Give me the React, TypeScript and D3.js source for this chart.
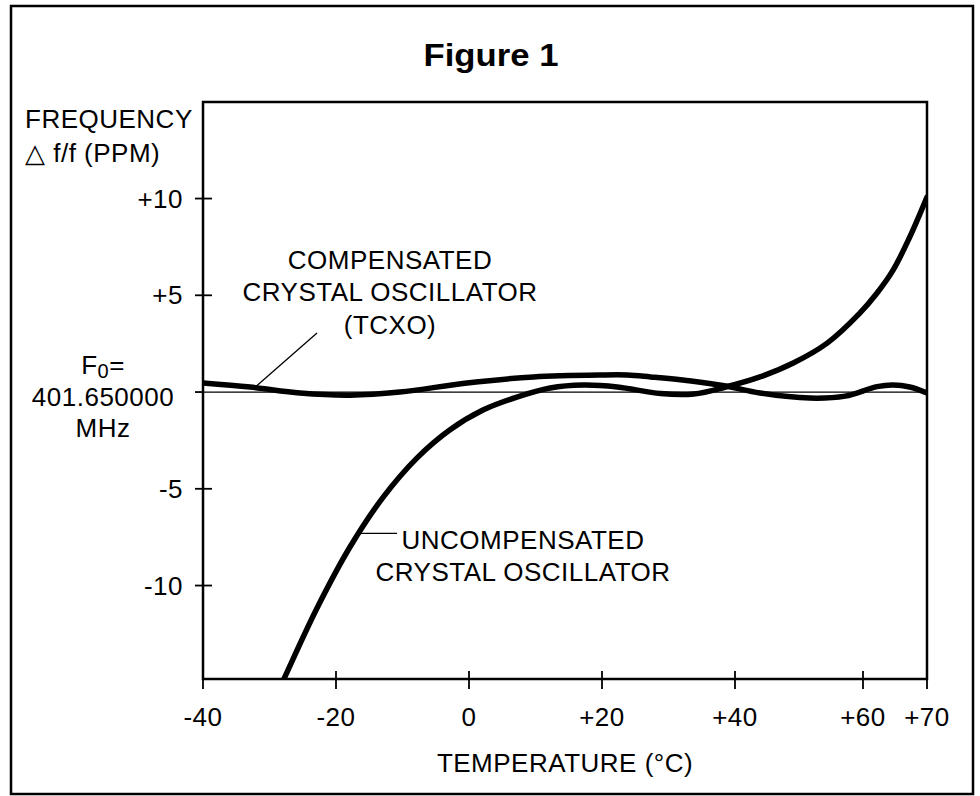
import React from 'react';
import * as d3 from 'd3';

// temperature (°C) and frequency deviation (ppm)
const uncompTemp = [-29, -27.7, -22.9, -17.9, -12.9, -7.8, -2.9, 2.1, 7.2, 12.2, 17.2, 22.3, 28.8, 33.8, 38.6, 43.9, 49.1, 54.4, 59.5, 62.2, 64.7, 67.3, 70];
const uncompPpm = [-15.7, -14.73, -11.2, -8.01, -5.43, -3.4, -1.96, -0.93, -0.26, 0.21, 0.36, 0.26, -0.08, -0.1, 0.26, 0.78, 1.5, 2.53, 4.08, 5.12, 6.3, 8.01, 10.08];

const compTemp = [-40, -32.9, -25.4, -17.9, -10.4, -0.3, 9.7, 19.8, 23.8, 27.3, 33.4, 38.6, 43.9, 51.7, 57.2, 62.2, 64.7, 67.3, 70];
const compPpm = [0.47, 0.26, -0.05, -0.16, 0, 0.47, 0.78, 0.88, 0.88, 0.78, 0.57, 0.31, -0.05, -0.31, -0.21, 0.28, 0.36, 0.26, -0.05];

const xTicks = [-40, -20, 0, 20, 40, 60, 70];
const xTickLabels = ['-40', '-20', '0', '+20', '+40', '+60', '+70'];
const yTicks = [10, 5, 0, -5, -10];
const yTickLabels = ['+10', '+5', '', '-5', '-10'];

const font = '"Liberation Sans", Arial, Helvetica, sans-serif';

export default function App() {
  const width = 980;
  const height = 796;
  const plot = { left: 203, top: 102, right: 927, bottom: 679 };

  // the printed axis is not quite uniform, so use a few breakpoints
  const x = d3.scaleLinear()
    .domain([-40, 0, 40, 60, 70])
    .range([plot.left, 469, 735, 863, plot.right]);
  const y = d3.scaleLinear()
    .domain([-14.83, 14.99])
    .range([plot.bottom, plot.top]);

  const line = d3.line<[number, number]>()
    .x(d => x(d[0]))
    .y(d => y(d[1]))
    .curve(d3.curveCatmullRom.alpha(0.5));

  const uncomp: [number, number][] = uncompTemp.map((t, i) => [t, uncompPpm[i]]);
  const comp: [number, number][] = compTemp.map((t, i) => [t, compPpm[i]]);

  const textStyle = { fontFamily: font, fontSize: 26, letterSpacing: 0.5, fill: '#000' };

  // leader anchor points on the curves
  const tcxoAnchor = [x(-32), y(0.3)];
  const uncAnchor = [x(-16.8), y(-7.3)];

  return (
    <svg width={width} height={height} style={{ position: 'absolute', left: 0, top: 0, background: '#fff' }}>
      <rect x={11} y={6} width={962} height={788} fill="#fff" stroke="#000" strokeWidth={2.5} />

      <text x={491} y={66} textAnchor="middle" fontFamily={'"Liberation Sans Narrow", "Liberation Sans", Arial, sans-serif'}
        fontWeight="bold" fontSize={31} textLength={135} lengthAdjust="spacingAndGlyphs">Figure 1</text>

      <defs>
        <clipPath id="plotClip">
          <rect x={plot.left} y={plot.top} width={plot.right - plot.left} height={plot.bottom - plot.top} />
        </clipPath>
      </defs>

      {/* zero reference line */}
      <line x1={plot.left} x2={plot.right} y1={y(0)} y2={y(0)} stroke="#000" strokeWidth={1.3} />

      <g clipPath="url(#plotClip)" fill="none" stroke="#000" strokeWidth={5.5} strokeLinecap="round">
        <path d={line(comp) || ''} />
        <path d={line(uncomp) || ''} />
      </g>

      <rect x={plot.left} y={plot.top} width={plot.right - plot.left} height={plot.bottom - plot.top}
        fill="none" stroke="#000" strokeWidth={2.5} />

      {/* y ticks */}
      {yTicks.map((v, i) => (
        <g key={'y' + v}>
          <line x1={195} x2={v === 0 ? plot.left : 212} y1={y(v)} y2={y(v)} stroke="#000" strokeWidth={1.8} />
          {yTickLabels[i] && (
            <text x={183} y={y(v) + 9} textAnchor="end" {...textStyle}>{yTickLabels[i]}</text>
          )}
        </g>
      ))}

      {/* x ticks */}
      {xTicks.map((v, i) => (
        <g key={'x' + v}>
          <line x1={x(v)} x2={x(v)} y1={v === -40 || v === 70 ? plot.bottom : 671} y2={689} stroke="#000" strokeWidth={1.8} />
          <text x={x(v)} y={726} textAnchor="middle" {...textStyle}>{xTickLabels[i]}</text>
        </g>
      ))}

      <text x={(plot.left + plot.right) / 2} y={772} textAnchor="middle" {...textStyle}>TEMPERATURE (°C)</text>

      <text x={25} y={128} {...textStyle}>FREQUENCY</text>
      <text x={25} y={162} {...textStyle}>△ f/f (PPM)</text>

      <text x={103} y={374} textAnchor="middle" {...textStyle}>
        F<tspan fontSize={20} dy={4}>0</tspan><tspan dy={-4}>=</tspan>
      </text>
      <text x={103} y={406} textAnchor="middle" {...textStyle}>401.650000</text>
      <text x={103} y={437} textAnchor="middle" {...textStyle}>MHz</text>

      {/* TCXO annotation */}
      <line x1={tcxoAnchor[0]} y1={tcxoAnchor[1]} x2={317} y2={333} stroke="#000" strokeWidth={1.3} />
      <text x={390} y={269} textAnchor="middle" {...textStyle}>COMPENSATED</text>
      <text x={390} y={301} textAnchor="middle" {...textStyle}>CRYSTAL OSCILLATOR</text>
      <text x={390} y={334} textAnchor="middle" {...textStyle}>(TCXO)</text>

      {/* uncompensated annotation */}
      <line x1={uncAnchor[0]} y1={uncAnchor[1]} x2={397} y2={uncAnchor[1]} stroke="#000" strokeWidth={1.3} />
      <text x={523} y={549} textAnchor="middle" {...textStyle}>UNCOMPENSATED</text>
      <text x={523} y={581} textAnchor="middle" {...textStyle}>CRYSTAL OSCILLATOR</text>
    </svg>
  );
}
